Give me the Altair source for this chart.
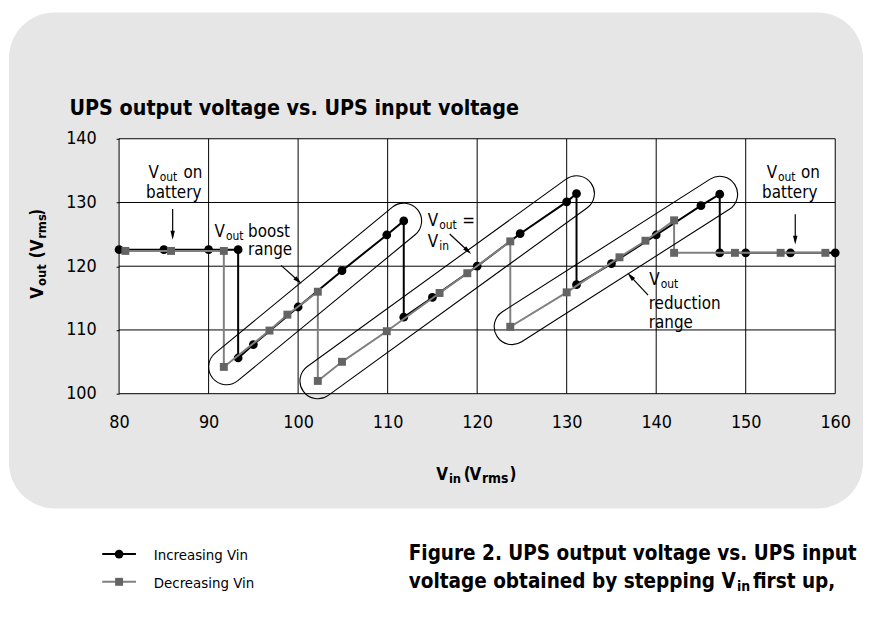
import math
import altair as alt
import pandas as pd

# ---------------- data ----------------
inc_vin = [80, 85, 90, 93.3, 93.3, 95, 100, 104.9, 109.9, 111.8, 111.8, 115, 120,
           124.8, 130, 131.1, 131.1, 135, 140, 145, 147.1, 147.1, 150, 155, 160]
inc_vout = [122.6, 122.6, 122.6, 122.6, 105.6, 107.7, 113.6, 119.3, 124.9, 127.1,
            112.0, 115.1, 120.0, 125.1, 130.1, 131.4, 117.1, 120.4, 124.9, 129.5,
            131.3, 122.1, 122.1, 122.1, 122.1]
dec_vin = [158.9, 153.9, 148.8, 142.0, 142.0, 138.8, 135.9, 130.0, 123.7, 123.7,
           118.9, 115.8, 109.9, 104.9, 102.2, 102.2, 98.8, 96.8, 91.7, 91.7, 85.8, 80.7]
dec_vout = [122.1, 122.1, 122.1, 122.1, 127.2, 124.0, 121.4, 115.9, 110.5, 123.9,
            118.9, 115.8, 109.8, 105.0, 102.0, 116.0, 112.4, 109.9, 104.2, 122.4,
            122.4, 122.4]
x_ticks = [80, 90, 100, 110, 120, 130, 140, 150, 160]
y_ticks = [100, 110, 120, 130, 140]
series_names = ["Increasing Vin", "Decreasing Vin"]

# capsule outlines (end centres, data units)
cap_vin0 = [92.0, 102.2, 123.9]
cap_vout0 = [104.2, 102.0, 110.5]
cap_vin1 = [111.8, 131.1, 147.1]
cap_vout1 = [127.1, 131.4, 131.3]

# ---------------- layout ----------------
W, H = 722, 257
OX, OY = 120, 137.3          # page position of plot origin
FONT = "DejaVu Sans Condensed, sans-serif"
BLACK = "#000000"
GRAY_LINE = "#808080"
GRAY_MARK = "#646464"
R_CAP = 18

xs = alt.Scale(domain=[80, 160], nice=False, zero=False)
ys = alt.Scale(domain=[100, 140], nice=False, zero=False)
AX = alt.Axis(values=x_ticks, grid=False, domain=False, ticks=False, labelFont=FONT,
              labelFontSize=18, labelColor=BLACK, labelPadding=20, title=None, zindex=1,
              labelFlush=False)
AY = alt.Axis(values=y_ticks, grid=False, domain=False, ticks=True, tickSize=3,
              tickColor=BLACK, labelFont=FONT, labelFontSize=18, labelColor=BLACK,
              labelPadding=20, title=None, zindex=1)


def lx(px):
    return px - OX


def ly(py):
    return py - OY


def to_px(vin, vout):
    return (vin - 80) / 80 * W, (140 - vout) / 40 * H


layers = []

# background panel
layers.append(alt.Chart(pd.DataFrame({"a": [0]})).mark_rect(
    color="#e6e6e6", cornerRadius=46).encode(
    x=alt.value(lx(9)), x2=alt.value(lx(870)), y=alt.value(ly(10)), y2=alt.value(ly(510))))
# white plot area
layers.append(alt.Chart(pd.DataFrame({"a": [0]})).mark_rect(color="white").encode(
    x=alt.value(0), x2=alt.value(W), y=alt.value(0), y2=alt.value(H)))

# grid lines
layers.append(alt.Chart(pd.DataFrame({"t": x_ticks})).mark_rule(
    color=BLACK, strokeWidth=1).encode(
    x=alt.X("t:Q", scale=xs, axis=AX), y=alt.value(0), y2=alt.value(H)))
layers.append(alt.Chart(pd.DataFrame({"t": y_ticks})).mark_rule(
    color=BLACK, strokeWidth=1).encode(
    y=alt.Y("t:Q", scale=ys, axis=AY), x=alt.value(0), x2=alt.value(W)))

# series
inc = pd.DataFrame({"vin": inc_vin, "vout": inc_vout, "i": range(len(inc_vin)),
                    "series": series_names[0]})
dec = pd.DataFrame({"vin": dec_vin, "vout": dec_vout, "i": range(len(dec_vin)),
                    "series": series_names[1]})


def enc(ch):
    return ch.encode(x=alt.X("vin:Q", scale=xs, axis=AX),
                     y=alt.Y("vout:Q", scale=ys, axis=AY),
                     order=alt.Order("i:Q"))


layers.append(enc(alt.Chart(inc).mark_line(color=BLACK, strokeWidth=2)))
layers.append(enc(alt.Chart(inc).mark_point(shape="circle", filled=True, color=BLACK,
                                             size=78, opacity=1)))
layers.append(enc(alt.Chart(dec).mark_line(color=GRAY_LINE, strokeWidth=2)))
layers.append(enc(alt.Chart(dec).mark_point(shape="square", filled=True, color=GRAY_MARK,
                                            size=64, opacity=1)))

# capsules
for a0, b0, a1, b1 in zip(cap_vin0, cap_vout0, cap_vin1, cap_vout1):
    x0, y0 = to_px(a0, b0)
    x1, y1 = to_px(a1, b1)
    L = math.hypot(x1 - x0, y1 - y0)
    ang = math.degrees(math.atan2(y1 - y0, x1 - x0)) % 360
    s = (L + 2 * R_CAP) / 2
    h = R_CAP / s
    a = 1 - h
    path = (f"M{-a:.4f},{-h:.4f}L{a:.4f},{-h:.4f}A{h:.4f},{h:.4f} 0 0 1 {a:.4f},{h:.4f}"
            f"L{-a:.4f},{h:.4f}A{h:.4f},{h:.4f} 0 0 1 {-a:.4f},{-h:.4f}Z")
    df = pd.DataFrame({"vin": [(a0 + a1) / 2], "vout": [(b0 + b1) / 2]})
    layers.append(alt.Chart(df).mark_point(
        shape=path, angle=round(ang, 2), size=(2 * s) ** 2, filled=False, color=BLACK,
        strokeWidth=1.1, opacity=1).encode(
        x=alt.X("vin:Q", scale=xs, axis=AX), y=alt.Y("vout:Q", scale=ys, axis=AY)))

# arrows (page coordinates: start -> tip)
arrows = [((174, 208), (174, 239)),
          ((283.3, 265), (304, 283.5)),
          ((453.3, 233.3), (475, 253.5)),
          ((653.3, 295), (632.5, 272.5)),
          ((801.7, 213.3), (801.7, 244))]
HEAD = "M0,-1L0.5,1L-0.5,1Z"
HEAD_LEN = 9
for (sx, sy), (tx, ty) in arrows:
    dx, dy = tx - sx, ty - sy
    d = math.hypot(dx, dy)
    ux, uy = dx / d, dy / d
    layers.append(alt.Chart(pd.DataFrame({"a": [0]})).mark_rule(
        color=BLACK, strokeWidth=1.2).encode(
        x=alt.value(lx(sx)), y=alt.value(ly(sy)),
        x2=alt.value(lx(tx - ux * 3)), y2=alt.value(ly(ty - uy * 3))))
    ang = math.degrees(math.atan2(dx, -dy)) % 360
    cx, cy = tx - ux * HEAD_LEN / 2, ty - uy * HEAD_LEN / 2
    layers.append(alt.Chart(pd.DataFrame({"a": [0]})).mark_point(
        shape=HEAD, angle=round(ang, 2), size=HEAD_LEN ** 2, filled=True, color=BLACK,
        opacity=1, strokeWidth=0).encode(x=alt.value(lx(cx)), y=alt.value(ly(cy))))

# legend (drawn)
layers.append(alt.Chart(pd.DataFrame({"a": [0]})).mark_rule(color=BLACK, strokeWidth=2).encode(
    x=alt.value(lx(103)), x2=alt.value(lx(137)), y=alt.value(ly(556))))
layers.append(alt.Chart(pd.DataFrame({"a": [0]})).mark_point(
    shape="circle", filled=True, color=BLACK, size=78, opacity=1).encode(
    x=alt.value(lx(120)), y=alt.value(ly(556))))
layers.append(alt.Chart(pd.DataFrame({"a": [0]})).mark_rule(color=GRAY_LINE, strokeWidth=2).encode(
    x=alt.value(lx(103)), x2=alt.value(lx(137)), y=alt.value(ly(584))))
layers.append(alt.Chart(pd.DataFrame({"a": [0]})).mark_point(
    shape="square", filled=True, color=GRAY_MARK, size=64, opacity=1).encode(
    x=alt.value(lx(120)), y=alt.value(ly(584))))

AN, SUB = 17, 12
# text pieces: (text, page x, page baseline y, size, weight, align, angle)
texts = [
    ("UPS output voltage vs. UPS input voltage", 70, 113, 21.5, "bold", "left", 0),
    # left battery
    ("V", 160, 177, AN, "normal", "right", 0),
    ("out", 161, 180, SUB, "normal", "left", 0),
    ("on", 185, 177, AN, "normal", "left", 0),
    ("battery", 203, 197, AN, "normal", "right", 0),
    # boost
    ("V", 226.7, 236, AN, "normal", "right", 0),
    ("out", 227.7, 239, SUB, "normal", "left", 0),
    ("boost", 250, 236, AN, "normal", "left", 0),
    ("range", 250, 254, AN, "normal", "left", 0),
    # Vout = Vin
    ("V", 441.7, 225, AN, "normal", "right", 0),
    ("out", 442.7, 228, SUB, "normal", "left", 0),
    ("=", 466, 225, AN, "normal", "left", 0),
    ("V", 441.7, 246, AN, "normal", "right", 0),
    ("in", 442.7, 249, SUB, "normal", "left", 0),
    # reduction
    ("V", 665, 285, AN, "normal", "right", 0),
    ("out", 666, 288, SUB, "normal", "left", 0),
    ("reduction", 654, 309, AN, "normal", "left", 0),
    ("range", 654, 328, AN, "normal", "left", 0),
    # right battery
    ("V", 783.3, 177, AN, "normal", "right", 0),
    ("out", 784.3, 180, SUB, "normal", "left", 0),
    ("on", 807.5, 177, AN, "normal", "left", 0),
    ("battery", 824, 197, AN, "normal", "right", 0),
    # x axis title
    ("V", 451.7, 481, 17, "bold", "right", 0),
    ("in", 452.5, 484, 13, "bold", "left", 0),
    ("(", 467.5, 481, 17, "bold", "left", 0),
    ("V", 485, 481, 17, "bold", "right", 0),
    ("rms", 485.8, 484, 14, "bold", "left", 0),
    (")", 513.5, 481, 17, "bold", "left", 0),
    # y axis title (rotated)
    ("V", 43.3, 286.7, 17, "bold", "right", 270),
    ("out", 46.5, 285.8, 13, "bold", "left", 270),
    ("(V", 43.3, 239, 17, "bold", "right", 270),
    ("rms", 46.5, 238.2, 13, "bold", "left", 270),
    (")", 43.3, 215, 17, "bold", "left", 270),
    # legend labels
    (series_names[0], 155, 562, 15, "normal", "left", 0),
    (series_names[1], 155, 590, 15, "normal", "left", 0),
    # caption
    ("Figure 2. UPS output voltage vs. UPS input", 412, 562, 20.7, "bold", "left", 0),
    ("voltage obtained by stepping V", 412, 590, 20.7, "bold", "left", 0),
    ("in", 743, 593, 14, "bold", "left", 0),
    ("first up,", 759, 590, 20.7, "bold", "left", 0),
]
for t, px, py, fs, fw, al, an in texts:
    kw = dict(text=t, font=FONT, fontSize=fs, fontWeight=fw, align=al,
              baseline="alphabetic", color=BLACK)
    if an:
        kw["angle"] = an
    layers.append(alt.Chart(pd.DataFrame({"a": [0]})).mark_text(**kw).encode(
        x=alt.value(lx(px)), y=alt.value(ly(py))))

chart = alt.layer(*layers).properties(
    width=W, height=H,
    autosize=alt.AutoSizeParams(type="none"),
    padding={"left": OX - 8, "top": OY - 8, "right": 862 - (OX - 8) - W,
             "bottom": 618 - (OY - 8) - H},
    background="white",
).configure_view(stroke=None, fill=None)

chart.save("out.html", embed_options={"renderer": "svg", "actions": False})
